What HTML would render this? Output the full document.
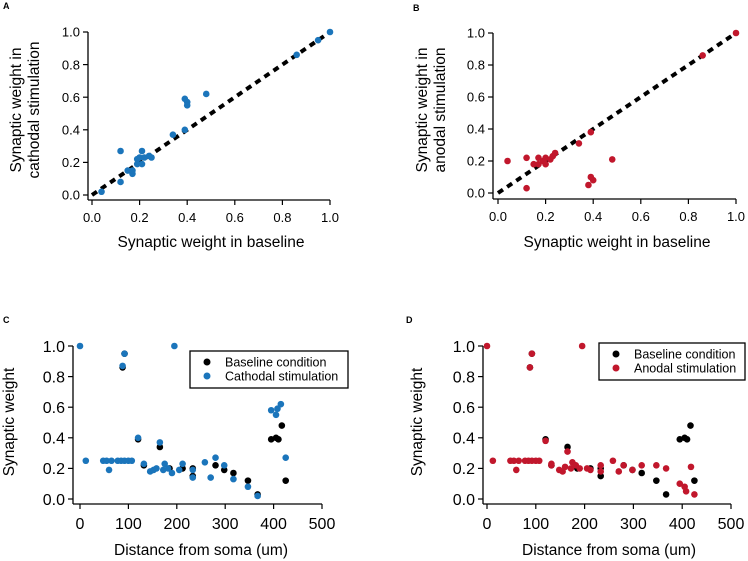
<!DOCTYPE html>
<html><head><meta charset="utf-8"><style>
html,body{margin:0;padding:0;background:#fff}
svg{display:block;font-family:"Liberation Sans",sans-serif}
</style></head><body>
<svg id="fig" width="748" height="561" viewBox="0 0 748 561" xmlns="http://www.w3.org/2000/svg"></svg>
<script>
const BLUE="#1b75bb", RED="#c1172c", BLACK="#000";
// Panel A data: baseline vs cathodal
const aBase=[0.04,0.12,0.12,0.15,0.17,0.17,0.19,0.19,0.20,0.21,0.21,0.22,0.24,0.25,0.34,0.39,0.39,0.40,0.40,0.48,0.86,0.95,1.0];
const aCath=[0.02,0.27,0.08,0.15,0.13,0.15,0.19,0.22,0.23,0.19,0.27,0.23,0.24,0.23,0.37,0.59,0.40,0.57,0.55,0.62,0.86,0.95,1.0];
// Panel B data: baseline vs anodal
const bBase=[0.04,0.12,0.12,0.15,0.17,0.17,0.19,0.20,0.20,0.22,0.23,0.24,0.34,0.38,0.39,0.39,0.40,0.48,0.86,1.0];
const bAnod=[0.20,0.22,0.03,0.18,0.18,0.22,0.20,0.22,0.18,0.21,0.23,0.25,0.31,0.05,0.38,0.10,0.08,0.21,0.86,1.0];
// Panels C/D: distance vs weight
const baseDist=[88,92,120,132,165,185,212,233,233,280,298,317,347,367,395,405,410,417,425];
const baseW=[0.86,0.95,0.39,0.22,0.34,0.20,0.20,0.20,0.15,0.22,0.19,0.17,0.12,0.03,0.39,0.40,0.39,0.48,0.12];
const cathDist=[0,12,48,55,60,65,78,85,88,92,92,100,107,120,132,145,152,158,165,172,175,182,190,195,205,212,233,233,258,270,280,298,317,347,367,395,405,408,415,425];
const cathW=[1.0,0.25,0.25,0.25,0.19,0.25,0.25,0.25,0.87,0.95,0.25,0.25,0.25,0.40,0.23,0.18,0.19,0.20,0.37,0.19,0.23,0.20,0.17,1.0,0.19,0.23,0.19,0.14,0.24,0.14,0.27,0.22,0.13,0.08,0.02,0.58,0.55,0.59,0.62,0.27];
const anodDist=[0,12,48,55,60,65,78,85,88,92,92,100,107,120,132,132,148,155,160,165,172,175,182,190,195,205,212,233,233,258,270,280,298,317,347,367,395,405,408,418,425];
const anodW=[1.0,0.25,0.25,0.25,0.19,0.25,0.25,0.25,0.86,0.95,0.25,0.25,0.25,0.38,0.22,0.23,0.19,0.18,0.21,0.31,0.20,0.24,0.22,0.20,1.0,0.20,0.19,0.22,0.18,0.25,0.18,0.22,0.19,0.22,0.22,0.20,0.10,0.08,0.05,0.21,0.03];
const scatTicks=["0.0","0.2","0.4","0.6","0.8","1.0"];
const distTicks=["0","100","200","300","400","500"];

const NS="http://www.w3.org/2000/svg", svg=document.getElementById("fig");
function mk(tag,attrs,parent){const e=document.createElementNS(NS,tag);for(const k in attrs)e.setAttribute(k,attrs[k]);(parent||svg).appendChild(e);return e;}
function txt(s,attrs,parent){const e=mk("text",attrs,parent);e.textContent=s;return e;}

function panel(o){
  const g=mk("g",{});
  
  
  const X=v=>o.x0+(v-o.xmin)/(o.xmax-o.xmin)*(o.x1-o.x0);
  const Y=v=>o.y0+(v-0)/(1-0)*(o.y1-o.y0);
  const lab=txt(o.letter,{x:o.lx,y:o.ly,"font-size":9,"font-weight":"bold"},g);
  
  
  const ya=mk("line",{x1:o.ax,y1:o.y1,x2:o.ax,y2:o.ay,stroke:"#000","stroke-width":1.3},g);
  
  
  const xa=mk("line",{x1:o.ax,y1:o.ay,x2:o.x1,y2:o.ay,stroke:"#000","stroke-width":1.3},g);
  
  
  scatTicks.forEach(t=>{const v=parseFloat(t),y=Y(v);
    mk("line",{x1:o.ax-5,y1:y,x2:o.ax,y2:y,stroke:"#000","stroke-width":1.2},g);
    const e=txt(t,{x:o.ax-8,y:y+o.fs*0.36,"font-size":o.fs,"text-anchor":"end"},g);
    
    });
  o.xticks.forEach(t=>{const v=parseFloat(t),x=X(v);
    mk("line",{x1:x,y1:o.ay,x2:x,y2:o.ay+5,stroke:"#000","stroke-width":1.2},g);
    const e=txt(t,{x:x,y:o.ay+o.fs+9,"font-size":o.fs,"text-anchor":"middle"},g);
    
    });
  const xt=txt(o.xtitle,{x:(o.x0+o.x1)/2,y:o.xty,"font-size":o.tfs,"text-anchor":"middle"},g);
  
  
  o.ytitle.forEach((s,i)=>{const cx=o.ytx[i],cy=o.tcy;
    const e=txt(s,{x:cx,y:cy,"font-size":o.tfs,"text-anchor":"middle",transform:`rotate(-90 ${cx} ${cy})`},g);
    
    });
  if(o.diag){const d=mk("line",{x1:X(0),y1:Y(0),x2:X(1),y2:Y(1),stroke:"#000","stroke-width":4,"stroke-dasharray":"6 5"},g);
    
    }
  o.series.forEach(s=>{s.xs.forEach((xv,i)=>{
    const c=mk("circle",{cx:X(xv),cy:Y(s.ys[i]),r:3.3,fill:s.color},g);
    
    });});
  if(o.legend){const L=o.legend;
    const box=mk("rect",{x:L.x,y:L.y,width:L.w,height:L.h,fill:"#fff",stroke:"#000","stroke-width":1.3},g);
    
    
    L.items.forEach((it,i)=>{const yy=L.y+11+i*14;
      const m=mk("circle",{cx:L.x+17,cy:yy,r:3.5,fill:it[1]},g);
      
      
      const t=txt(it[0],{x:L.x+35,y:yy+4.5,"font-size":12.5},g);
      
      });}
}
panel({name:"panel-a",letter:"A",lx:3,ly:9,xmin:0,xmax:1,x0:92,x1:330,y0:195,y1:32,ax:88,ay:200,fs:13,tfs:15.5,
  xticks:scatTicks,xtitle:"Synaptic weight in baseline",xty:247,ytitle:["Synaptic weight in","cathodal stimulation"],ytx:[21,39],tcy:110,diag:true,
  series:[{xs:aBase,ys:aCath,color:BLUE,name:"cathodal-point"}]});
panel({name:"panel-b",letter:"B",lx:413,ly:11,xmin:0,xmax:1,x0:498,x1:736,y0:193,y1:33,ax:493,ay:199,fs:13,tfs:15.5,
  xticks:scatTicks,xtitle:"Synaptic weight in baseline",xty:247,ytitle:["Synaptic weight in","anodal stimulation"],ytx:[427,445],tcy:110,diag:true,
  series:[{xs:bBase,ys:bAnod,color:RED,name:"anodal-point"}]});
panel({name:"panel-c",letter:"C",lx:3,ly:323,xmin:0,xmax:500,x0:80,x1:322,y0:499,y1:346,ax:73,ay:504,fs:16,tfs:15.5,
  xticks:distTicks,xtitle:"Distance from soma (um)",xty:555,ytitle:["Synaptic weight"],ytx:[14],tcy:422,
  series:[{xs:baseDist,ys:baseW,color:BLACK,name:"baseline-point"},{xs:cathDist,ys:cathW,color:BLUE,name:"cathodal-point"}],
  legend:{x:190,y:351,w:158,h:37,items:[["Baseline condition",BLACK],["Cathodal stimulation",BLUE]]}});
panel({name:"panel-d",letter:"D",lx:406,ly:323,xmin:0,xmax:500,x0:487,x1:731,y0:499,y1:346,ax:483,ay:504,fs:16,tfs:15.5,
  xticks:distTicks,xtitle:"Distance from soma (um)",xty:555,ytitle:["Synaptic weight"],ytx:[422],tcy:422,
  series:[{xs:baseDist,ys:baseW,color:BLACK,name:"baseline-point"},{xs:anodDist,ys:anodW,color:RED,name:"anodal-point"}],
  legend:{x:599,y:343,w:146,h:37,items:[["Baseline condition",BLACK],["Anodal stimulation",RED]]}});
</script>
</body></html>
